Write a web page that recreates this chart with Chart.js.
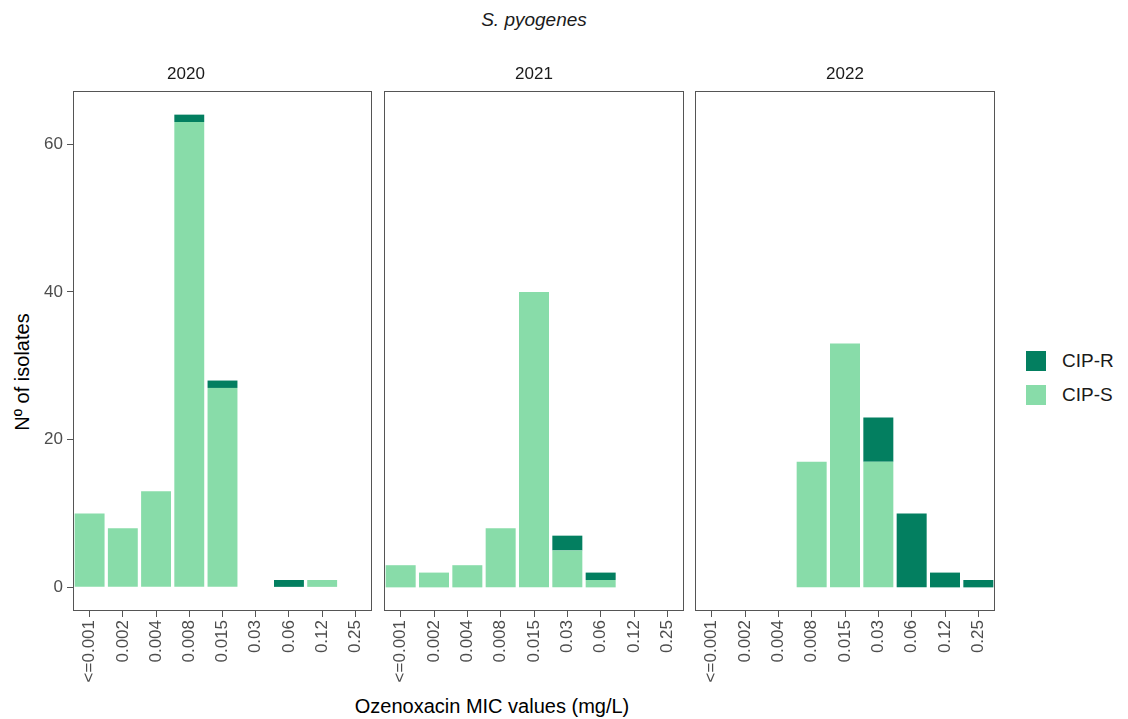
<!DOCTYPE html>
<html>
<head>
<meta charset="utf-8">
<script src="https://cdn.jsdelivr.net/npm/chart.js@4/dist/chart.umd.min.js"></script>
<style>
  html, body { margin: 0; padding: 0; background: #fff; }
  body { width: 1128px; height: 719px; position: relative; overflow: hidden; font-family: 'Liberation Sans', Arial, sans-serif; }
  canvas { position: absolute; top: 0; }
  .txt { position: absolute; white-space: nowrap; color: #000; }
  #title { left: 534px; top: 20px; transform: translate(-50%, -50%); font-size: 19px; font-style: italic; color: #1a1a1a; }
  #xtitle { left: 492px; top: 706px; transform: translate(-50%, -50%); font-size: 20px; }
  #ytitle { left: 22px; top: 372px; transform: translate(-50%, -50%) rotate(-90deg); font-size: 20px; }
  .key { position: absolute; width: 20px; height: 20px; left: 1026px; }
  .lab { position: absolute; left: 1062px; font-size: 19px; color: #1a1a1a; transform: translateY(-50%); }
</style>
</head>
<body>
<div id="title" class="txt">S. pyogenes</div>
<div id="ytitle" class="txt">Nº of isolates</div>
<div id="xtitle" class="txt">Ozenoxacin MIC values (mg/L)</div>
<div class="key" style="top:351px;background:#037f60"></div>
<div class="lab" style="top:361px">CIP-R</div>
<div class="key" style="top:385px;background:#88dca9"></div>
<div class="lab" style="top:395px">CIP-S</div>

<canvas id="c0" width="378" height="719" style="left:0px"></canvas>
<canvas id="c1" width="312" height="719" style="left:378px"></canvas>
<canvas id="c2" width="312" height="719" style="left:689px"></canvas>

<script>
// ---- data ----
const micLabels = ["<=0.001", "0.002", "0.004", "0.008", "0.015", "0.03", "0.06", "0.12", "0.25"];
const years = ["2020", "2021", "2022"];
const cipS2020 = [10, 8, 13, 63, 27, 0, 0, 1, 0];
const cipR2020 = [0, 0, 0, 1, 1, 0, 1, 0, 0];
const cipS2021 = [3, 2, 3, 8, 40, 5, 1, 0, 0];
const cipR2021 = [0, 0, 0, 0, 0, 2, 1, 0, 0];
const cipS2022 = [0, 0, 0, 17, 33, 17, 0, 0, 0];
const cipR2022 = [0, 0, 0, 0, 0, 6, 10, 2, 1];
const yTicks = [0, 20, 40, 60];

const cipS = [cipS2020, cipS2021, cipS2022];
const cipR = [cipR2020, cipR2021, cipR2022];

const colS = '#88dca9';
const colR = '#037f60';
const tickCol = '#4d4d4d';
const lineCol = '#555555';

Chart.defaults.font.family = "'Liberation Sans', Arial, sans-serif";

const panelBorder = {
  id: 'panelBorder',
  afterDraw(chart) {
    const a = chart.chartArea, ctx = chart.ctx;
    ctx.save();
    ctx.strokeStyle = lineCol;
    ctx.lineWidth = 1;
    ctx.strokeRect(Math.round(a.left) + 0.5, Math.round(a.top) + 0.5,
                   Math.round(a.right - a.left) - 1, Math.round(a.bottom - a.top) - 1);
    ctx.restore();
  }
};

years.forEach((yr, i) => {
  const first = i === 0;
  const yScale = {
    display: first,
    stacked: true,
    min: -3.2, max: 67.2,
    grid: { display: true, drawOnChartArea: false, tickLength: 6, tickColor: lineCol, tickWidth: 1 },
    border: { display: false },
    ticks: { color: tickCol, font: { size: 17 }, padding: 4 },
    afterBuildTicks(scale) { scale.ticks = yTicks.map(v => ({ value: v })); }
  };
  if (first) yScale.afterFit = (scale) => { scale.width = 73; };
  new Chart(document.getElementById('c' + i), {
    type: 'bar',
    data: {
      labels: micLabels,
      datasets: [
        { label: 'CIP-S', data: cipS[i], backgroundColor: colS, borderWidth: 0,
          categoryPercentage: 0.9, barPercentage: 1.0 },
        { label: 'CIP-R', data: cipR[i], backgroundColor: colR, borderWidth: 0,
          categoryPercentage: 0.9, barPercentage: 1.0 }
      ]
    },
    options: {
      responsive: false,
      animation: false,
      devicePixelRatio: 1,
      layout: { padding: { left: first ? 0 : 6, right: 6, top: 0, bottom: 0 } },
      plugins: {
        legend: { display: false },
        tooltip: { enabled: false },
        title: {
          display: true, text: yr, color: '#1a1a1a',
          font: { size: 17, weight: 'normal' },
          padding: { top: 64, bottom: 6.6 }
        }
      },
      scales: {
        x: {
          stacked: true,
          offset: true,
          grid: { display: true, drawOnChartArea: false, offset: false, tickLength: 6, tickColor: lineCol, tickWidth: 1 },
          border: { display: false },
          ticks: { color: tickCol, font: { size: 17 }, minRotation: 90, maxRotation: 90, padding: 3, autoSkip: false },
          afterFit(scale) { scale.height = 108; scale.paddingLeft = 0; scale.paddingRight = 0; }
        },
        y: yScale
      }
    },
    plugins: [panelBorder]
  });
});
</script>
</body>
</html>
